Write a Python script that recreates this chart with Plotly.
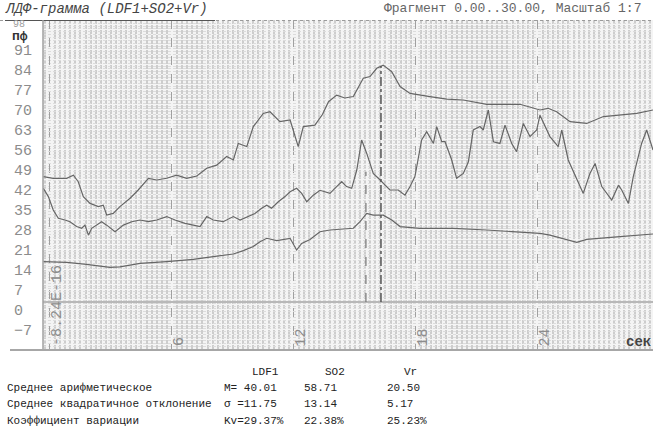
import plotly.graph_objects as go

# ---------------- data ----------------
t_so2 = [-0.33, 0.16, 0.82, 1.15, 1.39, 1.64, 1.97, 2.38, 2.62, 2.79, 3.11, 3.44, 3.94,
         4.34, 4.84, 5.25, 5.74, 6.23, 6.72, 7.22, 7.71, 8.20, 8.69, 9.02, 9.26, 9.68,
         10.00, 10.49, 10.82, 11.31, 11.81, 12.21, 12.46, 13.03, 13.40, 13.70, 14.10,
         14.50, 14.92, 15.41, 15.74, 16.07, 16.39, 16.81, 17.22, 17.71, 18.69, 19.51,
         20.33, 21.48, 23.12, 23.70, 24.10, 24.50, 24.92, 25.58, 26.40, 27.22, 28.04,
         28.86, 29.66]
so2 = [47.3, 46.7, 46.7, 47.8, 45.5, 40.3, 37.9, 36.8, 37.3, 33.8, 34.4, 36.8, 39.7,
       42.6, 46.7, 46.1, 46.7, 47.8, 46.7, 47.5, 50.2, 51.3, 54.3, 53.1, 58.9, 57.8,
       64.8, 69.4, 70.0, 66.5, 67.1, 57.8, 64.8, 65.3, 69.0, 73.5, 75.8,
       74.8, 75.3, 81.7, 82.3, 85.2, 86.3, 84.0, 78.8, 76.4, 75.3, 74.4,
       74.1, 72.6, 72.6, 71.5, 70.6, 71.2, 70.0, 66.5, 65.9, 68.3, 68.8,
       69.4, 70.6]

t_ldf = [-0.33, -0.08, 0.16, 0.41, 0.74, 0.98, 1.31, 1.56, 1.72, 1.89, 2.05, 2.30, 2.54,
         2.79, 3.20, 3.61, 4.02, 4.43, 4.84, 5.25, 5.74, 6.15, 6.64, 7.05, 7.38, 7.71,
         8.03, 8.52, 9.02, 9.35, 9.75, 10.08, 10.41, 10.66, 10.90, 11.23, 11.56, 11.81,
         12.13, 12.38, 12.63, 12.95, 13.28, 13.77, 14.10, 14.35, 14.59, 14.84, 15.09,
         15.33, 15.58, 15.90, 16.15, 16.72, 17.13, 17.46, 17.71, 17.95, 18.28, 18.53,
         18.86, 19.02, 19.27, 19.43, 19.76, 20.00, 20.33, 20.58, 20.82, 21.15, 21.31,
         21.56, 21.81, 22.13, 22.38, 22.71, 22.95, 23.28, 23.61, 23.94, 24.10, 24.59,
         25.00, 25.17, 25.49, 25.91, 26.23, 26.56, 26.81, 27.14, 27.63, 27.96, 28.12,
         28.45, 28.69, 29.10, 29.35, 29.66]
ldf1 = [43.2, 40.3, 35.6, 32.7, 32.1, 31.5, 29.8, 29.2, 30.3, 26.8, 29.2, 30.3, 31.5,
        30.3, 28.0, 30.3, 31.5, 32.1, 31.5, 32.1, 33.3, 32.1, 30.9, 30.3, 29.8, 33.3,
        32.1, 31.5, 33.3, 32.1, 33.3, 34.4, 36.2, 37.3, 36.2, 38.5, 40.3, 42.0,
        43.2, 41.4, 38.5, 40.8, 42.5, 41.4, 43.8, 45.5, 43.8, 43.2, 49.6,
        60.1, 55.4, 48.4, 46.7, 42.6, 42.6, 40.8, 43.8, 47.3, 60.1, 63.0,
        58.9, 64.8, 59.5, 59.5, 53.1, 46.7, 48.4, 52.5, 63.6, 64.8, 63.6,
        70.6, 59.5, 58.9, 65.3, 58.9, 56.0, 65.9, 61.3, 63.6, 68.8, 61.3,
        57.8, 63.6, 53.1, 46.1, 41.4, 48.4, 51.9, 43.8, 39.1, 44.3, 42.6,
        37.9, 47.3, 58.9, 63.6, 56.6]

t_vr = [-0.33, 0.82, 1.80, 2.95, 3.44, 4.43, 5.74, 7.05, 8.03, 9.02, 9.51, 10.00, 10.33,
        10.66, 11.15, 11.81, 12.13, 12.38, 12.79, 13.28, 13.77, 14.92, 15.25, 15.58,
        15.90, 16.39, 16.81, 17.22, 18.20, 19.84, 21.48, 23.12, 24.10, 24.59, 25.42,
        25.91, 26.40, 27.22, 28.04, 29.66]
vr = [17.5, 17.3, 16.6, 15.5, 15.7, 16.9, 17.5, 18.3, 19.3, 20.2, 21.4, 22.8, 24.5,
      25.7, 24.9, 25.7, 21.6, 23.9, 25.3, 28.0, 28.6, 29.2, 31.5, 34.4,
      33.8, 33.8, 32.1, 29.8, 29.2, 29.2, 28.6, 28.0, 27.4, 26.8, 25.1,
      24.3, 25.3, 25.7, 26.3, 27.2]

y_tick_vals = [-7, 0, 7, 14, 21, 28, 35, 42, 49, 56, 63, 70, 77, 84, 91]
x_tick_vals = [0, 6, 12, 18, 24]
x_tick_text = ["-8.24E-16", "6", "12", "18", "24"]
markers = [15.54, 16.28]

stat_cols = ["LDF1", "SO2", "Vr"]
stat_rows = ["Среднее арифметическое", "Среднее квадратичное отклонение", "Коэффициент вариации"]
stat_c1 = ["M= 40.01", "\u03c3 =11.75", "Kv=29.37%"]
stat_c2 = ["58.71", "13.14", "22.38%"]
stat_c3 = ["20.50", "5.17", "25.23%"]

# ---------------- layout helpers ----------------
W, H = 653, 434
L, R, T, B = 43, 653, 20, 349
X0, X1 = -0.344, 29.66
Y0, Y1 = -13.05, 102.1
MONO = "Liberation Mono, Courier New, monospace"
LINE = "#666666"


def px(x):
    return (x - L) / (R - L)


def py(y):
    return (B - y) / (B - T)


fig = go.Figure()
for tx, ty in [(t_so2, so2), (t_ldf, ldf1), (t_vr, vr)]:
    fig.add_trace(go.Scatter(x=tx, y=ty, mode="lines",
                             line=dict(color=LINE, width=1.2), showlegend=False,
                             hoverinfo="skip"))

shapes = []
shapes.append(dict(type="line", xref="paper", yref="y", x0=0, x1=1, y0=3.4, y1=3.4,
                   line=dict(color="#b8b8b8", width=2)))
shapes.append(dict(type="line", xref="x", yref="y", x0=markers[0], x1=markers[0],
                   y0=3.4, y1=49, line=dict(color="#777", width=1.2, dash="dash")))
shapes.append(dict(type="line", xref="x", yref="y", x0=markers[1], x1=markers[1],
                   y0=3.4, y1=86, line=dict(color="#555", width=1.5, dash="dashdot")))
shapes.append(dict(type="line", xref="paper", yref="paper", x0=px(0), x1=1, y0=py(20.5), y1=py(20.5),
                   line=dict(color="#9a9a9a", width=1, dash="dot")))
shapes.append(dict(type="line", xref="paper", yref="paper", x0=px(5), x1=px(215), y0=py(20.5), y1=py(20.5),
                   line=dict(color="#555", width=1)))
shapes.append(dict(type="line", xref="paper", yref="paper", x0=0, x1=0, y0=0, y1=1,
                   line=dict(color="#a0a0a0", width=1.5)))
shapes.append(dict(type="line", xref="paper", yref="paper", x0=px(10), x1=1, y0=py(350), y1=py(350),
                   line=dict(color="#8a8a8a", width=1.5)))

ann = []
for v in y_tick_vals:
    ann.append(dict(xref="paper", yref="y", x=px(12), y=v, xanchor="left", yanchor="middle",
                    text=str(v).replace("-", "\u2212"), showarrow=False,
                    font=dict(family=MONO, size=15, color="#8c8c8c")))
ann.append(dict(xref="paper", yref="paper", x=px(12), y=py(25), xanchor="left", yanchor="middle",
                text="98", showarrow=False, borderpad=0,
                font=dict(family=MONO, size=10, color="#a0a0a0")))
ann.append(dict(xref="paper", yref="paper", x=px(11), y=py(36), xanchor="left", yanchor="middle",
                text="<b>пф</b>", showarrow=False, borderpad=0,
                font=dict(family=MONO, size=13, color="#333")))
for v, s in zip(x_tick_vals, x_tick_text):
    ann.append(dict(xref="x", yref="paper", x=v + 0.37, y=py(348), xanchor="center", yanchor="bottom",
                    text=s, textangle=-90, showarrow=False,
                    font=dict(family=MONO, size=15, color="#8c8c8c")))
ann.append(dict(xref="paper", yref="paper", x=px(624), y=py(342), xanchor="left", yanchor="middle",
                text="<b>сек</b>", showarrow=False, font=dict(family=MONO, size=14, color="#444")))
ann.append(dict(xref="paper", yref="paper", x=px(4), y=py(9), xanchor="left", yanchor="middle",
                text="<i>ЛДФ-грамма (LDF1+SO2+Vr)</i>", showarrow=False, borderpad=0,
                font=dict(family=MONO, size=14, color="#444")))
ann.append(dict(xref="paper", yref="paper", x=px(383), y=py(9), xanchor="left", yanchor="middle",
                text="Фрагмент 0.00..30.00, Масштаб 1:7", showarrow=False, borderpad=0,
                font=dict(family=MONO, size=13, color="#666")))
SF = dict(family=MONO, size=11, color="#222")
for s, xp in zip(stat_cols, [250, 323, 402]):
    ann.append(dict(xref="paper", yref="paper", x=px(xp), y=py(372), xanchor="left", yanchor="middle",
                    text=s, showarrow=False, font=SF))
for i, yy in enumerate([388, 404, 421]):
    ann.append(dict(xref="paper", yref="paper", x=px(5), y=py(yy), xanchor="left", yanchor="middle",
                    text=stat_rows[i], showarrow=False, font=SF))
    ann.append(dict(xref="paper", yref="paper", x=px(222), y=py(yy), xanchor="left", yanchor="middle",
                    text=stat_c1[i], showarrow=False, font=SF))
    ann.append(dict(xref="paper", yref="paper", x=px(302), y=py(yy), xanchor="left", yanchor="middle",
                    text=stat_c2[i], showarrow=False, font=SF))
    ann.append(dict(xref="paper", yref="paper", x=px(385), y=py(yy), xanchor="left", yanchor="middle",
                    text=stat_c3[i], showarrow=False, font=SF))

fig.update_layout(
    width=W, height=H,
    margin=dict(l=L, r=W - R, t=T, b=H - B, pad=0),
    paper_bgcolor="white", plot_bgcolor="#f4f4f4",
    shapes=shapes, annotations=ann, showlegend=False, hovermode=False,
    xaxis=dict(range=[X0, X1], showticklabels=False, ticks="", zeroline=False, fixedrange=True,
               tick0=0, dtick=6, showgrid=True, gridcolor="#a0a0a0", griddash="dash", gridwidth=1,
               minor=dict(tick0=0, dtick=0.25, showgrid=True, gridcolor="#cdcdcd", gridwidth=1.5,
                          griddash="4px,1px")),
    yaxis=dict(range=[Y0, Y1], showticklabels=False, ticks="", zeroline=False, fixedrange=True,
               tick0=0, dtick=7, showgrid=True, gridcolor="#dcdcdc", griddash="3px,2px", gridwidth=1,
               minor=dict(tick0=0, dtick=1, showgrid=True, gridcolor="#dcdcdc", gridwidth=1,
                          griddash="3px,2px")),
)

fig.write_html("out.html", config={"displayModeBar": False},
               post_script="document.body.style.margin='0';document.body.style.padding='0';")
